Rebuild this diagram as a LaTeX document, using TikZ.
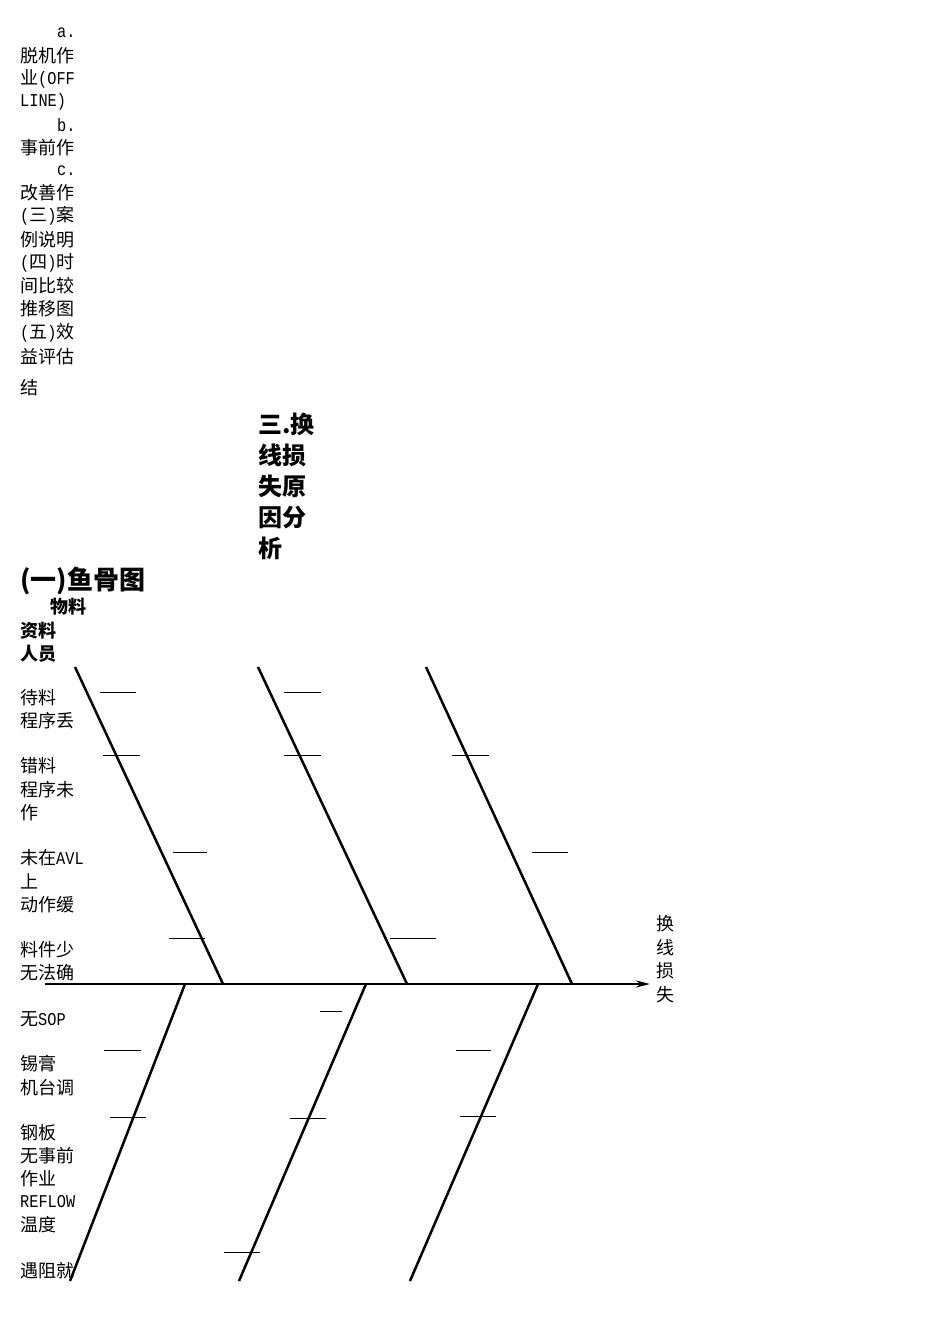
\documentclass[tikz,border=0pt]{standalone}
\usepackage{fontspec}
\setmainfont{Noto Sans CJK SC}
\newfontfamily\lat{Liberation Mono}[Scale=1.0,FakeStretch=0.85]
\usepackage{tikz}
\usetikzlibrary{arrows.meta}

\begin{document}
\begin{tikzpicture}[
                x=1pt,y=-1pt,
                lbl/.style={anchor=west,inner sep=0pt,font=\fontsize{18}{18}\selectfont},
                head/.style={anchor=west,inner sep=0pt,font=\fontsize{18}{18}\selectfont\bfseries},
                bone/.style={line width=2.5pt},
                tick/.style={line width=1pt}
            ]
                \useasboundingbox (0,0) rectangle (950,1344);
                % contents list
                \foreach \t/\x/\y [count=\i] in {{\lat a.}/57/33, 脱机作/20/56, 业{\lat (OFF}/20/79, {\lat LINE)}/20/102,
                    {\lat b.}/57/125, 事前作/20/148, {\lat c.}/57/171, 改善作/20/193, {\lat (}三{\lat )}案/20/216,
                    例说明/20/240, {\lat (}四{\lat )}时/20/263, 间比较/20/286, 推移图/20/309,
                    {\lat (}五{\lat )}效/20/333, 益评估/20/357, 结/20/388}
                    \node[lbl] (toc\i) at (\x,\y) {\t};
                % titles
                \node[head,font=\fontsize{24}{31}\selectfont\bfseries,align=left,anchor=north west]
                    (sect) at (258,413) {三.换\\线损\\失原\\因分\\析};
                \node[head,font=\fontsize{26}{26}\selectfont\bfseries] (fish) at (20,581) {(一)鱼骨图};
                \node[head] (h1) at (50,607) {物料};
                \node[head] (h2) at (20,631) {资料};
                \node[head] (h3) at (20,654) {人员};
                % causes
                \foreach \t/\y [count=\i] in {待料/698, 程序丢/721, 错料/766, 程序未/790, 作/813,
                    未在{\lat AVL}/858, 上/881, 动作缓/905, 料件少/950, 无法确/973, 无{\lat SOP}/1019,
                    锡膏/1064, 机台调/1088, 钢板/1133, 无事前/1156, 作业/1179, {\lat REFLOW}/1202,
                    温度/1225, 遇阻就/1271}
                    \node[lbl] (c\i) at (20,\y) {\t};
                \node[lbl,font=\fontsize{18}{23.7}\selectfont,align=center,anchor=north] (loss) at (665,915) {换\\线\\损\\失};
                % spine and bones
                \coordinate (tail) at (45,984);
                \coordinate (tip) at (650,984);
                \draw[bone,-{Stealth[length=14pt,width=7pt]}] (tail) -- (tip);
                \foreach \a/\b [count=\i] in {75/223, 258/407, 426/572}{
                    \coordinate (u\i) at (\a,667);
                    \coordinate (v\i) at (\b,984);
                    \draw[bone] (u\i) -- (v\i);
                }
                \foreach \a/\b [count=\i] in {185/70, 366/239, 538/410}{
                    \coordinate (p\i) at (\a,984);
                    \coordinate (q\i) at (\b,1281);
                    \draw[bone] (p\i) -- (q\i);
                }
                % small marks
                \foreach \a/\b/\y in {100/136/692, 103/140/755, 173/207/852, 169/205/938,
                    284/321/692, 284/321/755, 390/436/938, 452/489/755, 532/568/852,
                    320/342/1011, 104/141/1050, 110/146/1117, 456/491/1050,
                    290/326/1118, 460/496/1116, 224/260/1252}
                    \draw[tick] (\a,\y) -- (\b,\y);
            \end{tikzpicture}
\end{document}
